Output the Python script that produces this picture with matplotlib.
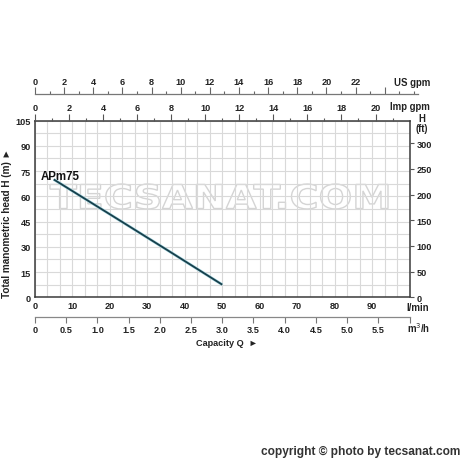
import numpy as np
import matplotlib
matplotlib.use("Agg")
import matplotlib.pyplot as plt
import matplotlib.patheffects as pe
from matplotlib.textpath import TextPath
from matplotlib.patches import PathPatch
from matplotlib.font_manager import FontProperties
from matplotlib.transforms import Affine2D
from matplotlib.ticker import MultipleLocator

# pump curve APm75
q_lmin = [5, 20, 35, 50]
h_m = [70, 49.3, 28.5, 7.5]
curve_name = "APm75"

lmin_ticks = [0, 10, 20, 30, 40, 50, 60, 70, 80, 90]
m3h_ticks = [0, 0.5, 1.0, 1.5, 2.0, 2.5, 3.0, 3.5, 4.0, 4.5, 5.0, 5.5]
h_ticks = [0, 15, 30, 45, 60, 75, 90, 105]
ft_ticks = [0, 50, 100, 150, 200, 250, 300]
imp_ticks = [0, 2, 4, 6, 8, 10, 12, 14, 16, 18, 20]
us_ticks = [0, 2, 4, 6, 8, 10, 12, 14, 16, 18, 20, 22]

plt.rcParams["font.family"] = ["Liberation Sans", "DejaVu Sans"]
TXT = "#222222"
FS = 6.6
W = H = 464.0

fig = plt.figure(figsize=(4.64, 4.64), dpi=100)
fig.patch.set_facecolor("white")


def fx(px):
    return px / W


def fy(py):
    return 1 - py / H


# main axes: l/min vs head in m
L, R, T, B = 35, 409.5, 121.5, 298.3
ax = fig.add_axes([fx(L), fy(B), fx(R) - fx(L), fy(T) - fy(B)])
ax.plot(q_lmin, h_m, color="#173f4b", lw=1.3, solid_capstyle="butt", zorder=5,
        path_effects=[pe.Stroke(linewidth=2.1, foreground="#a8d8e2"), pe.Normal()])
ax.set_xlim(0, 100)
ax.set_ylim(0, 105)
ax.set_xticks(lmin_ticks)
ax.set_xticks(np.arange(0, 100.01, 10 / 3), minor=True)
ax.set_yticks(h_ticks)
ax.yaxis.set_minor_locator(MultipleLocator(7.5))
ax.grid(True, which="both", color="#d9d9d9", lw=0.8)
ax.set_axisbelow(True)
ax.tick_params(which="both", length=0, labelsize=FS, labelcolor=TXT, pad=3)
for lab in ax.get_xticklabels() + ax.get_yticklabels():
    lab.set_fontweight("bold")
for s in ax.spines.values():
    s.set_color("#3a3a3a")
    s.set_linewidth(1.1)

ax.text(1.5, 70, curve_name, fontsize=8.3, fontweight="bold", color="#111111",
        ha="left", va="baseline")

# right axis in ft
axr = ax.twinx()
axr.set_ylim(0, 105 * 3.2808)
axr.set_yticks(ft_ticks)
axr.tick_params(axis="y", length=3, width=0.8, color="#555555", labelsize=FS,
                labelcolor=TXT, pad=2)
for lab in axr.get_yticklabels():
    lab.set_fontweight("bold")
for s in axr.spines.values():
    s.set_visible(False)

# top spine: Imp gpm
axt = ax.twiny()
axt.set_xlim(0, 100 / 4.54609)
axt.set_xticks(imp_ticks)
axt.xaxis.set_minor_locator(MultipleLocator(1))
axt.tick_params(axis="x", which="major", length=5, width=0.8, color="#555555",
                labelsize=FS, labelcolor=TXT, pad=1)
axt.tick_params(axis="x", which="minor", length=2.5, width=0.8, color="#555555")
for lab in axt.get_xticklabels():
    lab.set_fontweight("bold")
for s in axt.spines.values():
    s.set_visible(False)

# US gpm scale above
us_left, us_right, us_y = 35, 418, 95
axu = fig.add_axes([fx(us_left), fy(us_y), fx(us_right) - fx(us_left), 0.0001])
axu.set_xlim(0, (us_right - us_left) / 14.57)
axu.xaxis.tick_top()
axu.set_xticks(us_ticks + [24])
axu.set_xticklabels([str(t) for t in us_ticks] + [""])
axu.xaxis.set_minor_locator(MultipleLocator(1))
axu.set_yticks([])
axu.tick_params(axis="x", which="major", length=5, width=0.8, color="#666666",
                labelsize=FS, labelcolor=TXT, pad=1)
axu.tick_params(axis="x", which="minor", length=2.5, width=0.8, color="#666666")
for lab in axu.get_xticklabels():
    lab.set_fontweight("bold")
for k, s in axu.spines.items():
    s.set_visible(k == "top")
axu.spines["top"].set_color("#777777")
axu.spines["top"].set_linewidth(0.9)
axu.patch.set_visible(False)

# m3/h scale below
m_y = 318
axm = fig.add_axes([fx(L), fy(m_y), fx(R) - fx(L), 0.0001])
axm.set_xlim(0, 6)
axm.set_xticks(m3h_ticks + [6.0])
axm.set_xticklabels([f"{t:.1f}" if t else "0" for t in m3h_ticks] + [""])
axm.set_yticks([])
axm.tick_params(axis="x", length=4, width=0.8, color="#777777", labelsize=FS,
                labelcolor=TXT, pad=2)
for lab in axm.get_xticklabels():
    lab.set_fontweight("bold")
for k, s in axm.spines.items():
    s.set_visible(k == "bottom")
axm.spines["bottom"].set_color("#888888")
axm.spines["bottom"].set_linewidth(0.9)
axm.patch.set_visible(False)

# unit labels and titles
kw = dict(fontweight="bold", color=TXT)
fig.text(fx(412), fy(83), "US gpm", ha="center", va="center", fontsize=FS + 0.3, **kw)
fig.text(fx(410), fy(107), "Imp gpm", ha="center", va="center", fontsize=FS + 0.3, **kw)
fig.text(fx(422), fy(124), "H\n(ft)", ha="center", va="center", linespacing=0.95,
         fontsize=FS + 0.3, **kw)
fig.text(fx(418), fy(308), "l/min", ha="center", va="center", fontsize=FS + 0.3, **kw)
fig.text(fx(419), fy(328), "m$^3$/h", ha="center", va="center", fontsize=FS + 0.3, **kw)
fig.text(fx(196), fy(344), "Capacity Q  \u25ba", ha="left", va="center", fontsize=FS, **kw)
fig.text(fx(7), fy(223), "Total manometric head H (m) \u25ba", rotation=90,
         ha="center", va="center", fontsize=7.2, **kw)
fig.text(fx(460), fy(452), "copyright \u00a9 photo by tecsanat.com", ha="right",
         va="center", fontsize=8.6, fontweight="bold", color="#333333")

# faint outlined watermark, under the grid and the curve
tp = TextPath((0, 0), "TECSANAT.COM", size=1,
              prop=FontProperties(family="DejaVu Sans", weight="bold"))
ext = tp.get_extents()
trf = (Affine2D().translate(-ext.x0, -ext.y0)
       .scale((388 - 50) / ext.width, 25 / ext.height)
       .translate(50, H - 210))
wm = PathPatch(tp, transform=trf, facecolor="white", edgecolor="#d4d4d4", lw=1.0)
fig.add_artist(wm)
wm.set_zorder(0.5)
ax.set_zorder(1)
axr.set_zorder(2)
axt.set_zorder(2)
ax.patch.set_visible(False)
axr.patch.set_visible(False)
axt.patch.set_visible(False)

fig.savefig("out.png", dpi=100)
